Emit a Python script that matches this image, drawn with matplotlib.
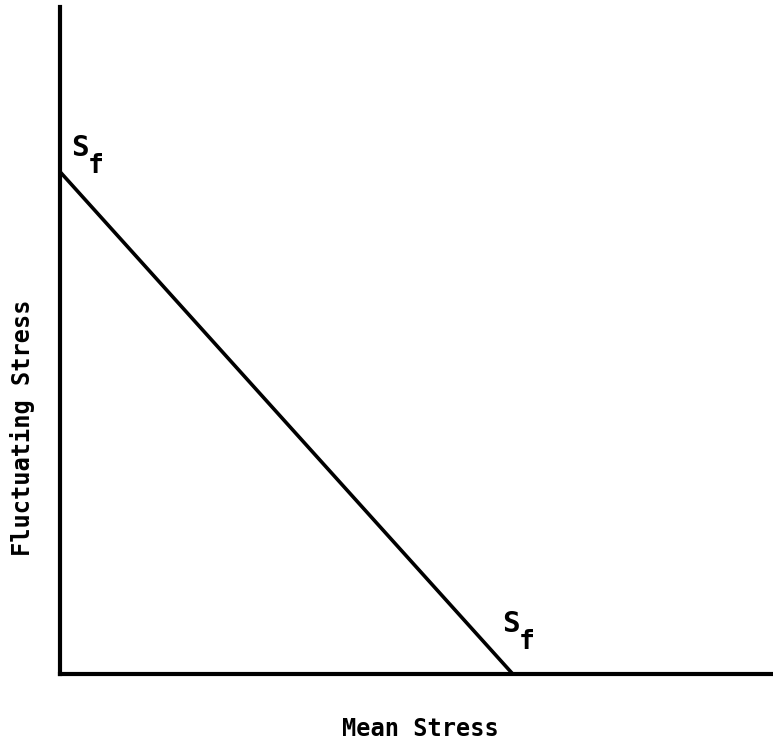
import matplotlib
matplotlib.use("Agg")
import matplotlib.pyplot as plt

# Goodman-type line: endurance strength S_f on both axes
mean_stress = [0, 63.5]
fluct_stress = [75.3, 0]
sf_label = "S"
sf_sub = "f"

plt.rcParams['font.family'] = ['DejaVu Sans Mono']
plt.rcParams['font.weight'] = 'bold'

fig = plt.figure(figsize=(7.73, 7.48), dpi=100)
ax = fig.add_axes([60 / 773, 74 / 748, 713 / 773, 667 / 748])

ax.plot(mean_stress, fluct_stress, color='black', linewidth=2.6, solid_capstyle='butt')

ax.set_xlim(0, 100)
ax.set_ylim(0, 100)
for side in ['top', 'right']:
    ax.spines[side].set_visible(False)
for side in ['left', 'bottom']:
    ax.spines[side].set_linewidth(3)
ax.set_xticks([])
ax.set_yticks([])

# S_f labels next to both intercepts
def sf_text(x, y, dx, dy):
    ax.annotate(sf_label, (x, y), xytext=(dx, dy), textcoords='offset pixels',
                fontsize=21, ha='left', va='bottom')
    ax.annotate(sf_sub, (x, y), xytext=(dx + 17, dy - 17), textcoords='offset pixels',
                fontsize=19, ha='left', va='bottom')

sf_text(0, fluct_stress[0], 11, 10)
sf_text(mean_stress[1], 0, -11, 36)

ax.set_xlabel('Mean Stress', fontsize=17, fontweight='bold')
ax.xaxis.set_label_coords(0.505, -0.064)
ax.xaxis.label.set_va('top')

fig.text(23 / 773, 1 - 428 / 748, 'Fluctuating Stress', fontsize=17,
         rotation=90, ha='center', va='center')

fig.savefig('out.png', dpi=100, facecolor='white')
